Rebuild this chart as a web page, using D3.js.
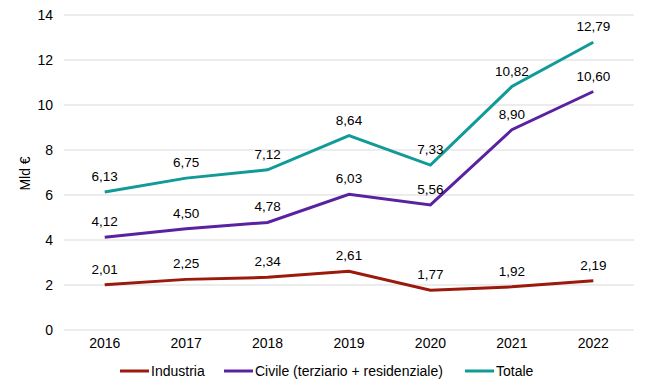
<!DOCTYPE html>
<html>
<head>
<meta charset="utf-8">
<script src="https://cdn.jsdelivr.net/npm/d3@7"></script>
<style>
  body { margin: 0; background: #fff; }
  text { font-family: "Liberation Sans", Arial, sans-serif; fill: #000; }
</style>
</head>
<body>
<div id="chart"></div>
<script>
const years = ["2016", "2017", "2018", "2019", "2020", "2021", "2022"];
const industria = [2.01, 2.25, 2.34, 2.61, 1.77, 1.92, 2.19];
const civile = [4.12, 4.50, 4.78, 6.03, 5.56, 8.90, 10.60];
const totale = [6.13, 6.75, 7.12, 8.64, 7.33, 10.82, 12.79];
const yTicks = [0, 2, 4, 6, 8, 10, 12, 14];

const series = [
  { name: "Industria", values: industria, color: "#9a1a0c" },
  { name: "Civile (terziario + residenziale)", values: civile, color: "#5a22a0" },
  { name: "Totale", values: totale, color: "#109a98" }
];

const width = 650, height = 391;
const margin = { top: 15, right: 16, bottom: 61, left: 64 };

const svg = d3.select("#chart").append("svg")
  .attr("width", width)
  .attr("height", height);

const x = d3.scaleBand()
  .domain(years)
  .range([margin.left, width - margin.right]);

const y = d3.scaleLinear()
  .domain([0, 14])
  .range([height - margin.bottom, margin.top]);

// gridlines
svg.append("g")
  .selectAll("line")
  .data(yTicks)
  .join("line")
  .attr("x1", margin.left)
  .attr("x2", width - margin.right)
  .attr("y1", d => y(d))
  .attr("y2", d => y(d))
  .attr("stroke", "#d9d9d9")
  .attr("stroke-width", 1);

// y axis labels
svg.append("g")
  .attr("transform", `translate(${margin.left},0)`)
  .call(d3.axisLeft(y).tickValues(yTicks).tickSize(0).tickPadding(11).tickFormat(d3.format("d")))
  .call(g => g.select(".domain").remove())
  .call(g => g.selectAll("text").style("font-size", "14px").style("font-family", "Liberation Sans, Arial, sans-serif"));

// x axis labels
svg.append("g")
  .attr("transform", `translate(0,${height - margin.bottom})`)
  .call(d3.axisBottom(x).tickSize(0).tickPadding(8))
  .call(g => g.select(".domain").remove())
  .call(g => g.selectAll("text").style("font-size", "14px").style("font-family", "Liberation Sans, Arial, sans-serif"));

// y title
svg.append("text")
  .attr("transform", `translate(30,${y(7) + 1}) rotate(-90)`)
  .attr("text-anchor", "middle")
  .style("font-size", "14px")
  .text("Mld €");

const line = d3.line()
  .x((d, i) => x(years[i]) + x.bandwidth() / 2)
  .y(d => y(d));

const fmt = v => d3.format(".2f")(v).replace(".", ",");

series.forEach(s => {
  svg.append("path")
    .datum(s.values)
    .attr("fill", "none")
    .attr("stroke", s.color)
    .attr("stroke-width", 3)
    .attr("d", line);

  svg.append("g")
    .selectAll("text")
    .data(s.values)
    .join("text")
    .attr("x", (d, i) => x(years[i]) + x.bandwidth() / 2)
    .attr("y", d => y(d) - 11)
    .attr("text-anchor", "middle")
    .style("font-size", "13.5px")
    .text(d => fmt(d));
});

// legend
const legendItems = [
  { x: 120, s: series[0] },
  { x: 224, s: series[1] },
  { x: 465, s: series[2] }
];
const legend = svg.append("g").attr("transform", "translate(0,371)");
legendItems.forEach(item => {
  legend.append("line")
    .attr("x1", item.x)
    .attr("x2", item.x + 29)
    .attr("y1", 0)
    .attr("y2", 0)
    .attr("stroke", item.s.color)
    .attr("stroke-width", 3);
  legend.append("text")
    .attr("x", item.x + 31)
    .attr("y", 5)
    .style("font-size", "14px")
    .text(item.s.name);
});
</script>
</body>
</html>
